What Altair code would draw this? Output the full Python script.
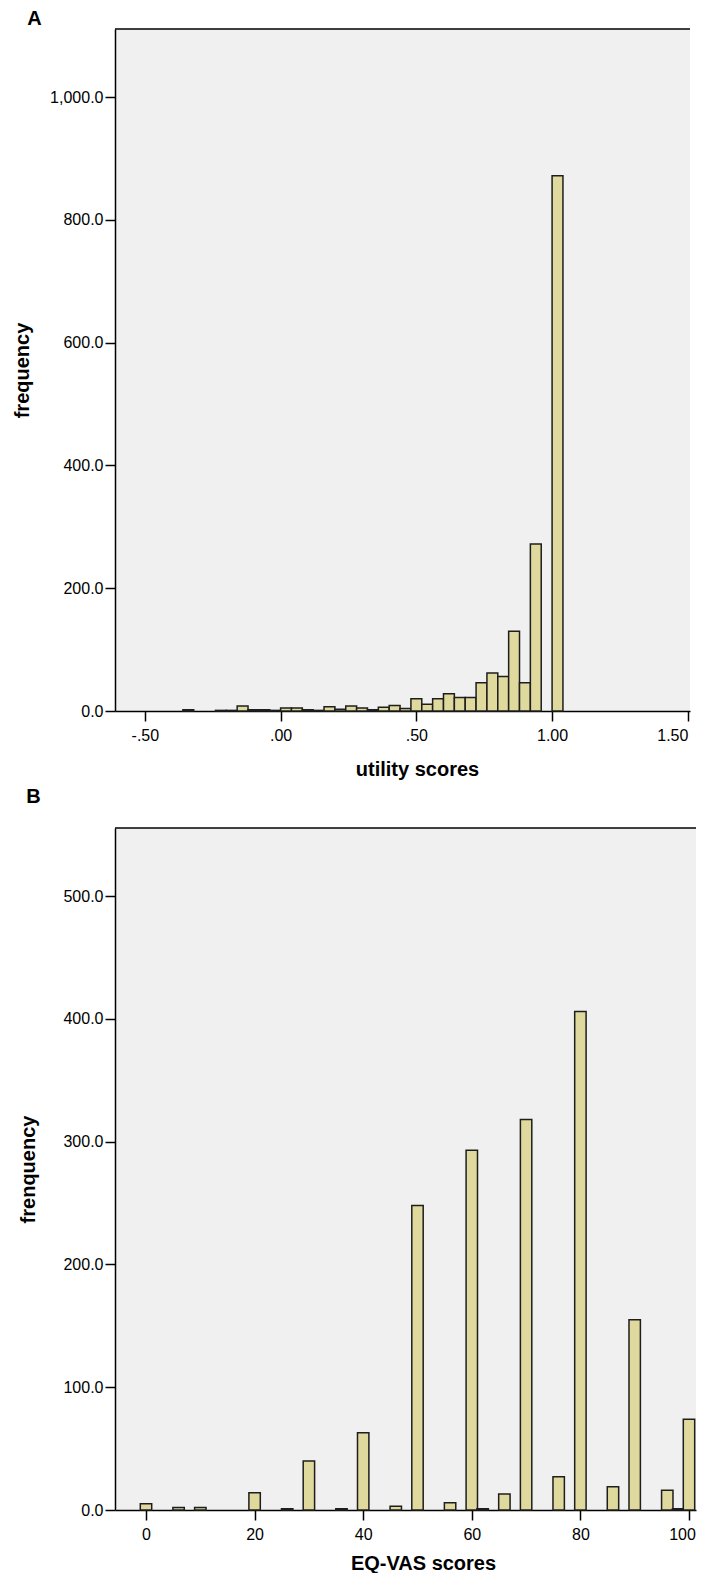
import altair as alt
import pandas as pd

# ---------------- data ----------------
# Panel A: utility scores histogram (bins of width 0.04, bin start values)
A_BIN_START = [-0.36, -0.24, -0.20, -0.16, -0.12, -0.08, -0.04, 0.00, 0.04, 0.08,
               0.12, 0.16, 0.20, 0.24, 0.28, 0.32, 0.36, 0.40, 0.44, 0.48,
               0.52, 0.56, 0.60, 0.64, 0.68, 0.72, 0.76, 0.80, 0.84, 0.88,
               0.92, 1.00]
A_COUNT = [2, 1, 1, 8, 2, 2, 1, 5, 5, 2,
           1, 7, 3, 8, 5, 2, 6, 9, 4, 20,
           11, 20, 28, 22, 22, 46, 62, 56, 130, 46,
           272, 872]
A_BIN_WIDTH = 0.04
A_X_TICKS = [-0.5, 0.0, 0.5, 1.0, 1.5]
A_X_TICK_LABELS = ["-.50", ".00", ".50", "1.00", "1.50"]
A_Y_TICKS = [0, 200, 400, 600, 800, 1000]

# Panel B: EQ-VAS scores histogram (bin centers)
B_BIN_CENTER = [0, 6, 10, 20, 26, 30, 36, 40, 46, 50, 56,
                60, 62, 66, 70, 76, 80, 86, 90, 96, 98, 100]
B_COUNT = [5, 2, 2, 14, 1, 40, 1, 63, 3, 248, 6,
           293, 1, 13, 318, 27, 406, 19, 155, 16, 1, 74]
B_BIN_WIDTH = 2.1
B_X_TICKS = [0, 20, 40, 60, 80, 100]
B_Y_TICKS = [0, 100, 200, 300, 400, 500]

# ---------------- style ----------------
FONT = "Liberation Sans"
FILL = "#dfd99e"
STROKE = "#1e1e1e"
PLOT_BG = "#f0f0f0"
H = 682


def label_expr(ticks, labels):
    parts = [f"abs(datum.value - ({v})) < 1e-9 ? '{l}'" for v, l in zip(ticks, labels)]
    return " : ".join(parts) + " : ''"


def axis_common():
    return dict(grid=False, tickSize=10, tickWidth=1.5, tickColor="black",
                domainColor="black", domainWidth=1.5,
                labelFont=FONT, labelFontSize=16, labelColor="black",
                titleFont=FONT, titleFontSize=20, titleFontWeight="bold",
                titleColor="black", labelOverlap=False, labelFlush=False)


def panel(df, letter, W, xdom, ydom, xaxis, yaxis, letter_x, letter_y):
    bars = alt.Chart(df).mark_rect(fill=FILL, stroke=STROKE, strokeWidth=1.5).encode(
        x=alt.X("x0:Q", scale=alt.Scale(domain=xdom, nice=False, zero=False), axis=xaxis),
        x2="x1:Q",
        y=alt.Y("count:Q", scale=alt.Scale(domain=ydom, nice=False, zero=True), axis=yaxis),
        y2="zero:Q",
    )
    ldf = pd.DataFrame({"letter": [letter]})
    top = alt.Chart(ldf).mark_rule(color="black", strokeWidth=1.5).encode(
        x=alt.value(0), x2=alt.value(W), y=alt.value(0))
    txt = alt.Chart(ldf).mark_text(font=FONT, fontSize=20, fontWeight="bold",
                                   align="center", baseline="middle", color="black").encode(
        x=alt.value(letter_x), y=alt.value(letter_y), text="letter:N")
    return alt.layer(bars, top, txt).properties(width=W, height=H)


# ---- Panel A ----
dfA = pd.DataFrame({
    "x0": A_BIN_START,
    "x1": [s + A_BIN_WIDTH for s in A_BIN_START],
    "count": A_COUNT,
    "zero": [0] * len(A_COUNT),
})
WA = 575
xaxisA = alt.Axis(values=A_X_TICKS, labelExpr=label_expr(A_X_TICKS, A_X_TICK_LABELS),
                  title="utility scores", labelPadding=6,
                  labelOffset={"condition": {"test": "datum.value == 1.5", "value": -15.5},
                               "value": 0},
                  titleX=302, titleY=58, titleBaseline="middle", titleAlign="center",
                  **axis_common())
yaxisA = alt.Axis(values=A_Y_TICKS, format=",.1f", title="frequency", labelPadding=2,
                  titleX=-93, titleY=H / 2, titleAngle=270, titleBaseline="middle",
                  titleAlign="center", **axis_common())
chartA = panel(dfA, "A", WA, [-0.61, 1.508], [0, 1111], xaxisA, yaxisA, -80.5, -10.5)

# ---- Panel B ----
dfB = pd.DataFrame({
    "x0": [c - B_BIN_WIDTH / 2 for c in B_BIN_CENTER],
    "x1": [c + B_BIN_WIDTH / 2 for c in B_BIN_CENTER],
    "count": B_COUNT,
    "zero": [0] * len(B_COUNT),
})
WB = 581
xaxisB = alt.Axis(values=B_X_TICKS, format="d", title="EQ-VAS scores", labelPadding=6,
                  labelOffset={"condition": {"test": "datum.value == 100", "value": -7},
                               "value": 0},
                  titleX=308, titleY=53, titleBaseline="middle", titleAlign="center",
                  **axis_common())
yaxisB = alt.Axis(values=B_Y_TICKS, format=",.1f", title="frenquency", labelPadding=2,
                  titleX=-87, titleY=H / 2, titleAngle=270, titleBaseline="middle",
                  titleAlign="center", **axis_common())
chartB = panel(dfB, "B", WB, [-5.709, 101.29], [0, 555.5], xaxisB, yaxisB, -81.5, -31.5)

chart = alt.concat(chartA, chartB, columns=1, spacing=7).properties(
    align="none",
    padding={"left": 4, "top": 0, "right": 0, "bottom": 0},
    background="white",
).configure_view(fill=PLOT_BG, strokeWidth=0)

chart.save("out.html", embed_options={"renderer": "svg", "actions": False})
